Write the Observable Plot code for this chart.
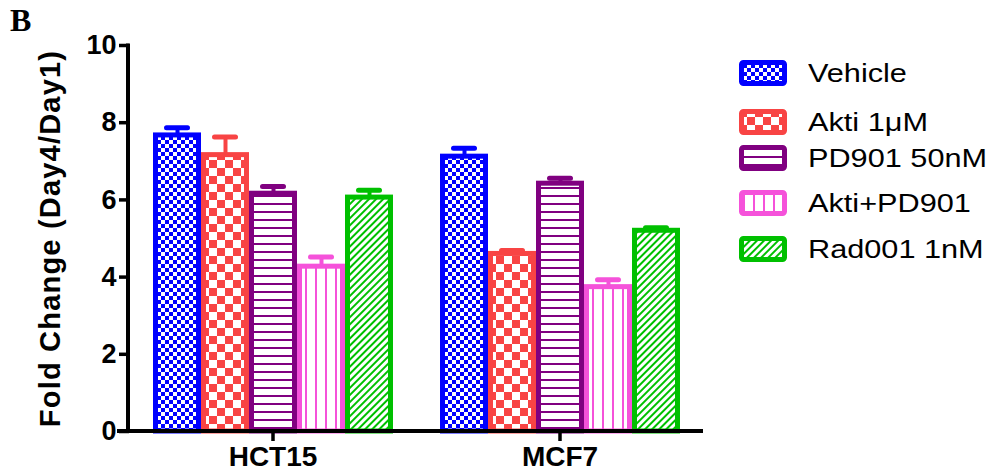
<!DOCTYPE html>
<html>
<head>
<meta charset="utf-8">
<script src="https://cdn.jsdelivr.net/npm/d3@7"></script>
<script src="https://cdn.jsdelivr.net/npm/@observablehq/plot@0.6"></script>
<style>
  html, body { margin: 0; padding: 0; background: #fff; }
  #wrap { position: relative; width: 997px; height: 476px; overflow: hidden; font-family: "Liberation Sans", Arial, sans-serif; }
  #panel { position: absolute; left: 10px; top: 2px; font-family: "Liberation Serif", "Times New Roman", serif; font-weight: bold; font-size: 32px; color: #000; }
  .legend-row { position: absolute; left: 739px; height: 26px; display: flex; align-items: center; }
  .legend-row svg { display: block; }
  .legend-row span { display: inline-block; margin-left: 21px; font-size: 26px; color: #000; white-space: nowrap; line-height: 26px; transform: scaleX(1.18); transform-origin: 0 50%; }
  svg [aria-label="y-axis label"] { font-size: 29px; letter-spacing: 1.2px; }
  svg [aria-label="y-axis tick label"] { font-size: 27px; }
  svg [aria-label="fx-axis tick label"] { font-size: 28px; }
</style>
</head>
<body>
<div id="wrap"></div>
<script>
// ---- data ----
const cellLines = ["HCT15", "MCF7"];
const treatments = ["Vehicle", "Akti 1\u03bcM", "PD901 50nM", "Akti+PD901", "Rad001 1nM"];
const hct15Means = [7.67, 7.16, 6.16, 4.27, 6.06];
const hct15Errors = [0.20, 0.47, 0.19, 0.25, 0.19];
const mcf7Means = [7.12, 4.60, 6.42, 3.74, 5.20];
const mcf7Errors = [0.22, 0.09, 0.14, 0.19, 0.08];
const yTicks = [0, 2, 4, 6, 8, 10];
const yLabel = "Fold Change (Day4/Day1)";

// ---- styling ----
const colors = ["#0000FF", "#F84444", "#800080", "#F552DA", "#00C000"];
const patternIds = ["pat-vehicle", "pat-akti", "pat-pd901", "pat-combo", "pat-rad001"];

const data = [];
treatments.forEach((t, i) => {
  data.push({cell: cellLines[0], treatment: t, idx: i, mean: hct15Means[i], err: hct15Errors[i]});
  data.push({cell: cellLines[1], treatment: t, idx: i, mean: mcf7Means[i], err: mcf7Errors[i]});
});

const W = 997, H = 476;
const mL = 128, mR = 294, mT = 45, mB = 45;

const marks = [];
treatments.forEach((t, i) => {
  const sub = data.filter(d => d.idx === i);
  marks.push(Plot.barY(sub, {
    fx: "cell", x: "treatment", y: "mean",
    fill: `url(#${patternIds[i]})`, stroke: colors[i], strokeWidth: 5,
    insetLeft: 2.5, insetRight: 2.5
  }));
});
treatments.forEach((t, i) => {
  const sub = data.filter(d => d.idx === i);
  marks.push(Plot.ruleX(sub, {
    fx: "cell", x: "treatment", y1: "mean", y2: d => d.mean + d.err,
    stroke: colors[i], strokeWidth: 4
  }));
  marks.push(Plot.tickY(sub, {
    fx: "cell", x: "treatment", y: d => d.mean + d.err,
    stroke: colors[i], strokeWidth: 5, strokeLinecap: "round",
    insetLeft: 13.5, insetRight: 13.5
  }));
});
marks.push(Plot.axisY({
  ticks: yTicks, tickSize: 10, tickPadding: 3, strokeWidth: 3.5,
  tickFormat: d => String(d),
  label: yLabel, labelAnchor: "center", labelOffset: 90, labelArrow: "none"
}));
marks.push(Plot.axisFx({
  anchor: "bottom", tickSize: 10, tickPadding: 5, strokeWidth: 3.5, label: null
}));

const plot = Plot.plot({
  width: W, height: H,
  marginLeft: mL, marginRight: mR, marginTop: mT, marginBottom: mB,
  style: {
    fontFamily: "'Liberation Sans', Arial, sans-serif",
    fontSize: "27px", fontWeight: "bold", color: "#000", background: "#fff", overflow: "visible"
  },
  fx: {domain: cellLines, paddingInner: 0, paddingOuter: 0, label: null},
  x: {domain: treatments, paddingInner: 0, paddingOuter: 0.4525, axis: null},
  y: {domain: [0, 10], label: yLabel},
  marks
});

const wrap = document.getElementById("wrap");
wrap.appendChild(plot);

// patterns
const svg = d3.select(plot);
const defs = svg.insert("defs", ":first-child");
function addPattern(id, w, h, draw, transform) {
  const p = defs.append("pattern").attr("id", id).attr("patternUnits", "userSpaceOnUse")
    .attr("width", w).attr("height", h);
  if (transform) p.attr("patternTransform", transform);
  p.append("rect").attr("width", w).attr("height", h).attr("fill", "#fff");
  draw(p);
}
addPattern(patternIds[0], 8, 8, p => {
  p.append("rect").attr("x", 0).attr("y", 0).attr("width", 4).attr("height", 4).attr("fill", colors[0]);
  p.append("rect").attr("x", 4).attr("y", 4).attr("width", 4).attr("height", 4).attr("fill", colors[0]);
});
addPattern(patternIds[1], 16, 16, p => {
  p.append("rect").attr("x", 0).attr("y", 0).attr("width", 8).attr("height", 8).attr("fill", colors[1]);
  p.append("rect").attr("x", 8).attr("y", 8).attr("width", 8).attr("height", 8).attr("fill", colors[1]);
});
addPattern(patternIds[2], 8, 8, p => {
  p.append("rect").attr("x", 0).attr("y", 3).attr("width", 8).attr("height", 2).attr("fill", colors[2]);
});
addPattern(patternIds[3], 10, 10, p => {
  p.append("rect").attr("x", 4).attr("y", 0).attr("width", 2).attr("height", 10).attr("fill", colors[3]);
});
addPattern(patternIds[4], 5, 5, p => {
  p.append("rect").attr("x", 0).attr("y", 0).attr("width", 2).attr("height", 5).attr("fill", colors[4]);
}, "rotate(45)");

// axis lines
const ys = plot.scale("y");
const y0 = ys.apply(0), yTop = ys.apply(10);
svg.append("line").attr("x1", mL).attr("x2", mL).attr("y1", yTop - 1.5).attr("y2", y0)
  .attr("stroke", "#000").attr("stroke-width", 4);
svg.append("line").attr("x1", mL - 11).attr("x2", W - mR).attr("y1", y0).attr("y2", y0)
  .attr("stroke", "#000").attr("stroke-width", 4);

// panel letter
const panel = document.createElement("div");
panel.id = "panel";
panel.textContent = "B";
wrap.appendChild(panel);

// legend
const legendCenters = [72.5, 121.7, 158, 203, 249];
treatments.forEach((t, i) => {
  const row = document.createElement("div");
  row.className = "legend-row";
  row.style.top = (legendCenters[i] - 13) + "px";
  const s = d3.create("svg").attr("width", 48).attr("height", 26);
  s.append("rect").attr("x", 2.5).attr("y", 2.5).attr("width", 43).attr("height", 21).attr("rx", 2)
    .attr("fill", `url(#${patternIds[i]})`).attr("stroke", colors[i]).attr("stroke-width", 5);
  row.appendChild(s.node());
  const span = document.createElement("span");
  span.textContent = t;
  row.appendChild(span);
  wrap.appendChild(row);
});
</script>
</body>
</html>
